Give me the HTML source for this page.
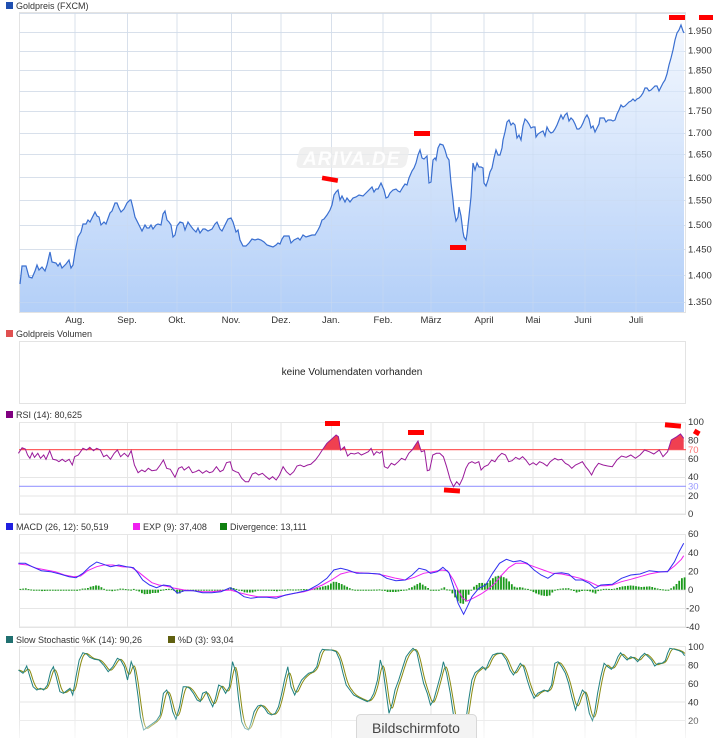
<!DOCTYPE html>
<html><head><meta charset="utf-8">
<style>
html,body{margin:0;padding:0;background:#fff;}
svg{display:block;font-family:"Liberation Sans",sans-serif;}
.t{font-size:9px;fill:#333;}
.ax{font-size:9.5px;fill:#333;}
</style></head><body>
<svg id="s" width="722" height="738" viewBox="0 0 722 738" xmlns="http://www.w3.org/2000/svg">
<defs>
<linearGradient id="gf" x1="0" y1="0" x2="0" y2="1">
<stop offset="0" stop-color="#f4f8fe"/><stop offset="1" stop-color="#b3cff8"/>
</linearGradient>
<clipPath id="above70"><rect x="19" y="400" width="667" height="49.6"/></clipPath>
<linearGradient id="bot" x1="0" y1="0" x2="0" y2="1"><stop offset="0" stop-color="#fff" stop-opacity="0"/><stop offset="1" stop-color="#fff" stop-opacity="0.7"/></linearGradient>
</defs>
<rect x="6" y="2" width="7" height="7" fill="#1f4fb0"/>
<text class="t" x="16" y="9">Goldpreis (FXCM)</text>
<rect x="19.5" y="12.5" width="666" height="300" fill="#fff" stroke="#e3e3e3"/>
<g id="mgrid" stroke="#e6e6e6" stroke-width="1"></g>
<path id="mfill" fill="url(#gf)"/>
<g id="mgrid2" stroke="#c9d9f0" stroke-opacity="0.5" stroke-width="1"></g>
<g transform="translate(300,147) skewX(-12)"><rect x="0" y="0" width="110" height="21" rx="5" fill="#ececec" fill-opacity="0.8"/></g>
<text x="303" y="165" font-size="19" font-style="italic" font-weight="bold" fill="#fff" fill-opacity="0.9" letter-spacing="1">ARIVA.DE</text>
<path id="mline" fill="none" stroke="#3a6fd0" stroke-width="1.2"/>
<g class="ax">
<text x="688" y="34">1.950</text><text x="688" y="53.5">1.900</text><text x="688" y="73.5">1.850</text><text x="688" y="93.5">1.800</text><text x="688" y="114">1.750</text><text x="688" y="136">1.700</text><text x="688" y="157.5">1.650</text><text x="688" y="181">1.600</text><text x="688" y="203.5">1.550</text><text x="688" y="228">1.500</text><text x="688" y="252.5">1.450</text><text x="688" y="278.5">1.400</text><text x="688" y="305">1.350</text>
</g>
<g class="ax" text-anchor="middle">
<text x="75" y="323">Aug.</text><text x="127" y="323">Sep.</text><text x="177" y="323">Okt.</text><text x="231" y="323">Nov.</text><text x="281" y="323">Dez.</text><text x="331" y="323">Jan.</text><text x="383" y="323">Feb.</text><text x="431" y="323">März</text><text x="484" y="323">April</text><text x="533" y="323">Mai</text><text x="583" y="323">Juni</text><text x="636" y="323">Juli</text>
</g>
<g fill="#f00">
<rect x="322" y="177" width="16" height="4.5" transform="rotate(10 330 179)"/>
<rect x="414" y="131" width="16" height="5"/>
<rect x="450" y="245" width="16" height="5"/>
<rect x="669" y="15" width="16" height="5"/>
<rect x="699" y="15" width="14" height="5"/>
</g>
<rect x="6" y="330" width="7" height="7" fill="#e05050"/>
<text class="t" x="16" y="337">Goldpreis Volumen</text>
<rect x="19.5" y="341.5" width="666" height="62" fill="#fff" stroke="#e3e3e3"/>
<text x="352" y="375" font-size="10" fill="#222" text-anchor="middle">keine Volumendaten vorhanden</text>
<rect x="6" y="411" width="7" height="7" fill="#800080"/>
<text class="t" x="16" y="418">RSI (14): 80,625</text>
<rect x="19.5" y="422.5" width="666" height="92" fill="#fff" stroke="#e3e3e3"/>
<g id="rgrid" stroke="#e6e6e6"></g>
<line x1="19" y1="449.6" x2="686" y2="449.6" stroke="#ff6060" stroke-width="1.2"/>
<line x1="19" y1="486.3" x2="686" y2="486.3" stroke="#9a9aff" stroke-width="1.2"/>
<path id="rfill" fill="#f04050" clip-path="url(#above70)"/>
<path id="rline" fill="none" stroke="#9a1a9a" stroke-width="1"/>
<g class="ax">
<text x="688" y="425">100</text><text x="688" y="443.5">80</text><text x="688" y="453" fill="#ff7070">70</text><text x="688" y="462">60</text><text x="688" y="480">40</text><text x="688" y="489.5" fill="#9a9aff">30</text><text x="688" y="499">20</text><text x="688" y="517">0</text>
</g>
<g fill="#f00">
<rect x="325" y="421" width="15" height="5"/>
<rect x="408" y="430" width="16" height="5"/>
<rect x="444" y="488" width="16" height="5" transform="rotate(4 452 490)"/>
<rect x="665" y="423" width="16" height="5" transform="rotate(5 673 425)"/>
<rect x="694" y="430" width="6" height="5" transform="rotate(30 697 432)"/>
</g>
<rect x="6" y="523" width="7" height="7" fill="#2020e0"/>
<text class="t" x="16" y="530">MACD (26, 12): 50,519</text>
<rect x="133" y="523" width="7" height="7" fill="#f020f0"/>
<text class="t" x="143" y="530">EXP (9): 37,408</text>
<rect x="220" y="523" width="7" height="7" fill="#108010"/>
<text class="t" x="230" y="530">Divergence: 13,111</text>
<rect x="19.5" y="534.5" width="666" height="93" fill="#fff" stroke="#e3e3e3"/>
<g id="dgrid" stroke="#e6e6e6"></g>
<g id="bars" fill="#1a9a1a"></g>
<path id="eline" fill="none" stroke="#f020f0" stroke-width="1"/>
<path id="mdline" fill="none" stroke="#3030f0" stroke-width="1"/>
<g class="ax">
<text x="688" y="537">60</text><text x="688" y="556">40</text><text x="688" y="574.5">20</text><text x="688" y="593">0</text><text x="686" y="611.5">-20</text><text x="686" y="630">-40</text>
</g>
<rect x="6" y="636" width="7" height="7" fill="#207070"/>
<text class="t" x="16" y="643">Slow Stochastic %K (14): 90,26</text>
<rect x="168" y="636" width="7" height="7" fill="#606010"/>
<text class="t" x="178" y="643">%D (3): 93,04</text>
<rect x="19.5" y="646.5" width="666" height="100" fill="#fff" stroke="#e3e3e3"/>
<g id="sgrid" stroke="#e6e6e6"></g>
<path id="dline" fill="none" stroke="#8a8a10" stroke-width="1"/>
<path id="kline" fill="none" stroke="#208080" stroke-width="1"/>
<g class="ax">
<text x="688" y="650">100</text><text x="688" y="668.5">80</text><text x="688" y="687">60</text><text x="688" y="705.5">40</text><text x="688" y="724">20</text>
</g>
<rect x="0" y="712" width="722" height="26" fill="url(#bot)"/>
<rect x="356.5" y="714.5" width="120" height="28" rx="4" fill="#f3f3f3" stroke="#d8d8d8"/>
<text x="416" y="733" font-size="14" fill="#444" text-anchor="middle">Bildschirmfoto</text>
</svg>
<script>
(function(){
var NS="http://www.w3.org/2000/svg";
function P(a){return a.map(function(p,i){return (i?"L":"M")+p[0].toFixed(1)+" "+p[1].toFixed(1);}).join("");}
function Z(a,y0){return a.map(function(p){return [p[0]/2.172,y0+p[1]/3];});}
function ln(g,x1,y1,x2,y2){var l=document.createElementNS(NS,"line");l.setAttribute("x1",x1);l.setAttribute("y1",y1);l.setAttribute("x2",x2);l.setAttribute("y2",y2);document.getElementById(g).appendChild(l);}
function interp(a,x){if(x<=a[0][0])return a[0][1];for(var i=1;i<a.length;i++){if(x<=a[i][0]){var t=(x-a[i-1][0])/(a[i][0]-a[i-1][0]);return a[i-1][1]+t*(a[i][1]-a[i-1][1]);}}return a[a.length-1][1];}
var vx=[75,127.5,177,231.5,281,331.5,383,431,484,533,585,636];
try{
[2000,1950,1900,1850,1800,1750,1700,1650,1600,1550,1500,1450,1400,1350].forEach(function(v){var y=Math.round(5600.5-735.1*Math.log(v))+0.5;ln("mgrid",19,y,686,y);ln("mgrid2",19,y,686,y);});
vx.forEach(function(x){ln("mgrid",x,13,x,312);ln("mgrid2",x,13,x,312);});
var m=[[20,284],[22,266],[26,266],[29,277],[32,278],[35,271],[37,265],[39,270],[42,267],[45,271],[47,265],[50,252],[52,262],[56,263],[58,266],[60,263],[62,268],[66,264],[69,260],[71,268],[73,265],[75,252],[78,237],[81,232],[83,224],[86,224],[88,220],[90,222],[92,218],[95,212],[97,216],[99,217],[101,225],[104,222],[106,224],[110,213],[112,211],[115,203],[117,203],[119,208],[121,212],[124,209],[127,203],[130,200],[131,200],[133,208],[135,217],[139,225],[142,231],[145,225],[147,228],[149,228],[151,225],[153,229],[156,225],[158,224],[161,225],[163,214],[165,211],[167,220],[169,222],[171,225],[173,237],[175,235],[177,226],[180,222],[183,223],[185,230],[188,222],[190,225],[193,229],[196,232],[198,228],[200,233],[203,229],[205,229],[208,231],[212,229],[215,224],[217,222],[220,229],[222,231],[225,225],[228,219],[231,218],[233,222],[236,232],[238,230],[240,240],[243,246],[246,246],[249,243],[252,239],[255,240],[258,239],[261,240],[264,242],[267,245],[270,246],[273,247],[276,245],[278,243],[280,244],[282,239],[284,236],[286,236],[289,236],[291,243],[294,240],[296,239],[298,238],[300,240],[303,235],[306,237],[309,236],[312,235],[315,235],[318,230],[320,226],[322,220],[324,219],[327,215],[330,210],[332,205],[334,195],[336,192],[338,190],[340,200],[342,196],[345,202],[347,198],[350,202],[353,198],[356,197],[359,195],[363,196],[366,193],[372,187],[374,192],[376,189],[378,189],[381,183],[384,190],[386,198],[388,197],[390,193],[393,190],[396,189],[398,191],[400,192],[403,187],[405,184],[407,185],[409,178],[412,171],[414,168],[416,163],[418,155],[420,150],[422,158],[424,159],[426,157],[427,156],[429,183],[431,182],[433,160],[435,158],[436,160],[438,148],[440,144],[443,145],[445,150],[447,157],[449,160],[451,183],[453,200],[454,210],[456,221],[458,217],[459,207],[461,216],[463,232],[464,237],[466,240],[467,234],[469,216],[471,197],[473,163],[475,170],[477,163],[479,167],[481,167],[483,168],[484,183],[486,186],[488,180],[490,172],[492,168],[494,158],[496,150],[498,155],[500,155],[502,148],[503,140],[505,132],[507,122],[509,120],[511,125],[513,123],[515,125],[517,138],[519,135],[521,140],[523,126],[525,119],[527,121],[529,124],[531,128],[533,127],[535,127],[536,137],[538,134],[541,132],[543,131],[545,136],[547,127],[549,131],[551,133],[553,132],[555,129],[557,125],[559,120],[561,115],[563,119],[565,115],[567,113],[569,121],[571,118],[573,120],[575,124],[577,129],[579,129],[581,127],[583,123],[585,118],[587,115],[589,119],[591,128],[593,126],[595,132],[597,128],[599,124],[600,118],[602,118],[604,118],[606,122],[608,120],[611,120],[613,121],[615,120],[617,114],[619,110],[621,105],[623,107],[625,106],[627,104],[629,102],[631,101],[633,99],[635,101],[637,99],[639,98],[641,96],[643,93],[645,88],[647,88],[649,91],[651,90],[653,88],[655,86],[657,86],[659,91],[661,87],[663,83],[665,80],[667,74],[669,65],[671,58],[673,50],[675,40],[677,33],[679,30],[681,25],[683,31],[684,33]];
document.getElementById("mline").setAttribute("d",P(m));
document.getElementById("mfill").setAttribute("d",P(m)+"L684 312L20 312Z");
}catch(e){}
try{
[422.5,441,459.5,477.5,496,514].forEach(function(y){ln("rgrid",19,y,686,y);});
vx.forEach(function(x){ln("rgrid",x,423,x,514);});
var r=Z([[40,160],[48,143],[55,147],[60,165],[65,175],[70,158],[75,172],[82,160],[88,175],[95,165],[100,178],[108,152],[115,178],[122,180],[128,185],[135,178],[142,185],[150,178],[157,195],[162,170],[170,165],[180,145],[188,150],[195,142],[203,152],[210,145],[218,150],[225,170],[232,165],[240,178],[248,160],[255,150],[262,170],[270,160],[278,170],[285,152],[292,195],[300,218],[308,210],[315,215],[322,205],[330,212],[340,210],[348,195],[355,180],[362,205],[370,208],[380,232],[388,205],[395,200],[400,210],[410,200],[418,218],[425,215],[432,210],[440,220],[448,212],[455,218],[462,215],[470,200],[478,215],[485,210],[492,188],[500,185],[505,210],[512,215],[518,218],[525,235],[533,245],[540,245],[548,222],[555,218],[562,225],[570,220],[578,230],[585,238],[592,230],[600,240],[607,225],[615,200],[622,215],[630,225],[638,215],[645,198],[652,195],[660,200],[668,195],[675,193],[685,180],[693,165],[700,150],[710,130],[720,118],[730,105],[735,110],[740,150],[748,140],[755,168],[762,160],[770,162],[778,158],[785,165],[793,160],[800,155],[806,145],[812,165],[818,155],[825,160],[830,153],[835,200],[842,205],[850,190],[857,195],[865,185],[872,175],[880,180],[888,160],[895,150],[902,135],[908,123],[915,155],[922,152],[928,212],[933,210],[940,165],[948,160],[955,160],[963,170],[970,200],[978,240],[985,260],[992,245],[998,255],[1005,235],[1012,205],[1018,190],[1025,185],[1032,190],[1040,185],[1045,210],[1052,200],[1060,195],[1068,180],[1075,185],[1082,170],[1090,160],[1098,165],[1105,185],[1112,182],[1120,172],[1128,178],[1135,170],[1142,180],[1150,195],[1158,188],[1165,195],[1172,185],[1180,190],[1188,198],[1195,185],[1205,175],[1212,180],[1220,178],[1228,190],[1235,195],[1242,205],[1250,195],[1258,190],[1265,185],[1272,200],[1278,210],[1285,225],[1292,205],[1300,190],[1310,195],[1320,198],[1330,200],[1340,180],[1350,168],[1360,172],[1370,165],[1380,175],[1390,165],[1400,150],[1410,155],[1420,162],[1432,150],[1440,170],[1450,155],[1458,120],[1470,110],[1478,102],[1485,115]],400);
document.getElementById("rline").setAttribute("d",P(r));
document.getElementById("rfill").setAttribute("d",P(r)+"L"+r[r.length-1][0]+" 449.6L"+r[0][0]+" 449.6Z");
}catch(e){}
try{
[534.5,553,571.5,590,608.5,627].forEach(function(y){ln("dgrid",19,y,686,y);});
vx.forEach(function(x){ln("dgrid",x,535,x,627);});
var md=Z([[40,490],[55,490],[70,500],[90,512],[110,515],[130,522],[150,530],[165,533],[180,520],[195,500],[210,486],[225,493],[240,500],[258,495],[275,500],[290,503],[300,520],[310,540],[325,555],[340,563],[355,555],[370,558],[385,580],[400,572],[420,572],[440,578],[460,578],[480,575],[500,563],[515,575],[530,590],[545,595],[560,592],[580,592],[600,595],[620,585],[645,578],[670,570],[690,555],[710,535],[725,510],[740,505],[755,510],[775,520],[800,520],[825,522],[840,535],[860,542],[880,540],[895,525],[910,505],[925,510],[935,520],[950,515],[962,502],[975,518],[985,560],[995,610],[1007,643],[1015,620],[1025,590],[1040,565],[1055,555],[1070,520],[1085,490],[1100,478],[1115,485],[1130,482],[1145,490],[1160,510],[1175,525],[1190,535],[1205,520],[1220,518],[1235,522],[1250,540],[1265,540],[1280,550],[1292,565],[1305,555],[1330,553],[1350,535],[1370,525],[1390,522],[1410,512],[1430,515],[1450,515],[1465,485],[1475,455],[1485,430]],400);
var ex=Z([[40,492],[60,495],[80,505],[100,510],[120,515],[140,525],[160,530],[175,528],[190,512],[210,500],[225,495],[245,495],[265,500],[285,502],[300,515],[315,532],[330,548],[345,555],[360,558],[380,565],[400,570],[420,572],[440,575],[460,575],[480,572],[500,570],[520,578],[540,585],[560,590],[580,590],[600,590],[620,586],[640,580],[660,575],[680,567],[700,555],[720,540],[740,522],[760,515],[780,518],[800,520],[820,522],[840,528],[860,535],[880,540],[900,532],[920,520],[940,515],[960,510],[972,512],[985,540],[995,570],[1005,595],[1015,603],[1030,593],[1045,582],[1060,568],[1075,550],[1090,525],[1105,503],[1120,490],[1140,490],[1160,500],[1180,510],[1200,520],[1220,522],[1240,528],[1260,535],[1280,545],[1298,557],[1315,557],[1330,555],[1350,545],[1370,538],[1390,530],[1410,522],[1430,517],[1450,514],[1465,498],[1480,478],[1485,467]],400);
document.getElementById("mdline").setAttribute("d",P(md));
document.getElementById("eline").setAttribute("d",P(ex));
var bg=document.getElementById("bars");
for(var bx=19.5;bx<684;bx+=2.7){var dv=interp(ex,bx)-interp(md,bx);var b0=589.7,b1=b0-dv;var bt=Math.min(b0,b1),bh=Math.max(Math.abs(dv),1);
var rc=document.createElementNS(NS,"rect");rc.setAttribute("x",bx.toFixed(1));rc.setAttribute("y",bt.toFixed(1));rc.setAttribute("width","1.8");rc.setAttribute("height",bh.toFixed(1));bg.appendChild(rc);}
}catch(e){}
try{
[646.5,665,683.5,702,720.5].forEach(function(y){ln("sgrid",19,y,686,y);});
vx.forEach(function(x){ln("sgrid",x,647,x,738);});
var k=Z([[40,810],[50,820],[58,798],[65,830],[72,860],[80,870],[88,865],[95,870],[103,855],[110,815],[116,800],[122,830],[130,875],[138,880],[145,872],[152,865],[158,885],[165,830],[172,780],[180,758],[188,762],[195,772],[205,778],[215,780],[225,795],[235,815],[245,800],[255,775],[262,780],[270,800],[277,840],[285,785],[292,810],[300,890],[305,950],[312,990],[320,982],[330,972],[340,962],[348,945],[355,880],[362,870],[368,890],[375,935],[382,958],[390,920],[398,860],[405,860],[412,865],[420,880],[428,900],[435,905],[440,880],[448,875],[455,900],[462,920],[468,895],[475,855],[482,860],[490,880],[498,860],[505,785],[512,815],[518,895],[525,965],[532,985],[540,990],[545,970],[552,935],[560,918],[567,915],[575,925],[582,940],[590,945],[598,940],[605,920],[612,880],[618,840],[625,800],[632,860],[640,885],[648,860],[655,840],[662,830],[670,820],[680,815],[688,800],[695,760],[700,748],[710,750],[720,750],[730,755],[738,780],[745,820],[752,855],[760,870],[768,885],[775,890],[782,895],[790,900],[798,905],[805,898],[812,880],[820,840],[826,780],[832,810],[838,870],[845,940],[852,910],[858,870],[866,840],[875,800],[882,770],[890,755],[897,745],[905,755],[912,800],[920,850],[928,880],[935,915],[942,900],[950,860],[958,820],[963,785],[970,820],[978,880],[985,945],[990,980],[997,1010],[1005,1010],[1012,960],[1018,900],[1025,840],[1032,818],[1040,810],[1048,800],[1055,810],[1062,785],[1070,765],[1080,760],[1090,760],[1100,780],[1108,810],[1115,825],[1122,810],[1130,790],[1137,800],[1145,840],[1152,870],[1160,895],[1168,880],[1175,875],[1182,870],[1190,875],[1198,855],[1205,790],[1212,785],[1220,800],[1228,820],[1235,850],[1242,890],[1250,930],[1257,900],[1265,870],[1272,880],[1280,940],[1287,962],[1292,935],[1298,880],[1305,830],[1312,790],[1320,800],[1328,808],[1335,795],[1342,770],[1348,758],[1355,770],[1362,780],[1370,770],[1378,775],[1385,785],[1392,770],[1400,760],[1408,770],[1415,780],[1422,798],[1430,790],[1438,790],[1445,782],[1450,760],[1455,745],[1465,748],[1475,752],[1482,757],[1487,767]],400);
document.getElementById("kline").setAttribute("d",P(k));
var dd=[];for(var x2=19;x2<=685;x2+=1){var s=0;for(var j=0;j<5;j++)s+=interp(k,x2-j);dd.push([x2,s/5]);}
document.getElementById("dline").setAttribute("d",P(dd));
}catch(e){}
})();
</script>
</body></html>
